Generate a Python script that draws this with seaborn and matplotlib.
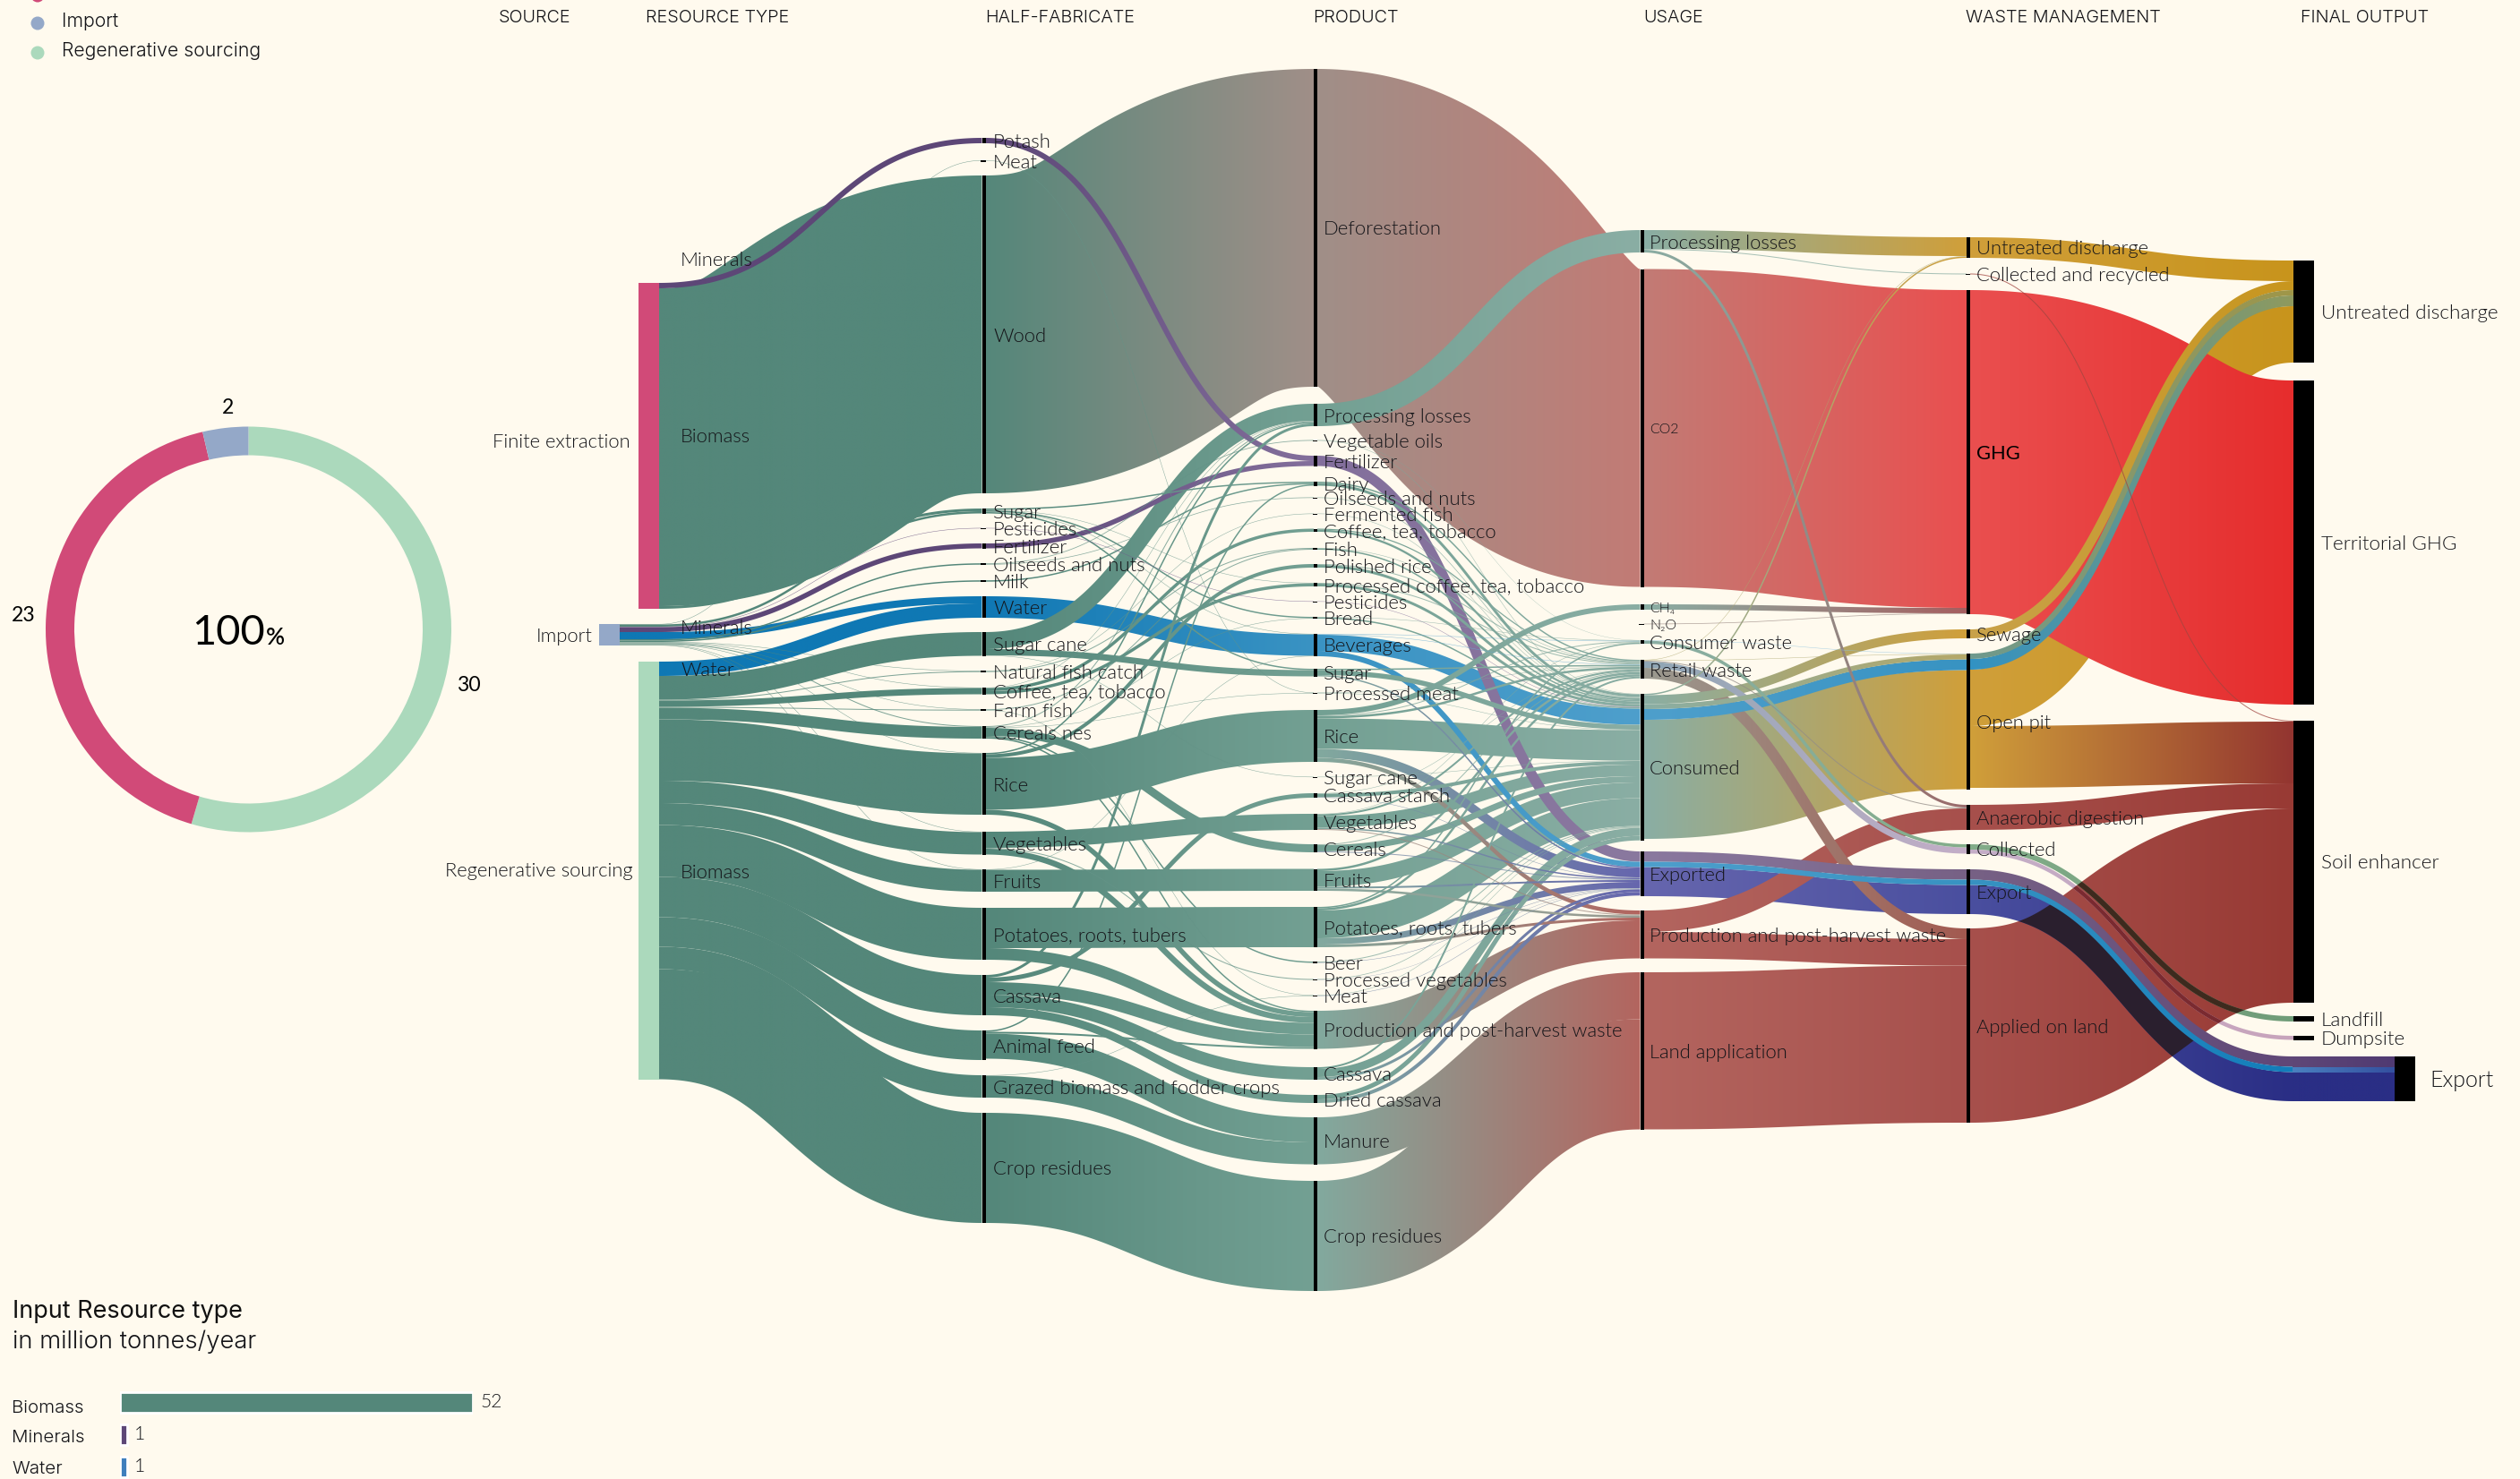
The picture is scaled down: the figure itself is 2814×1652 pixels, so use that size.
import numpy as np
import pandas as pd
import matplotlib
matplotlib.use("Agg")
import matplotlib.pyplot as plt
from matplotlib.path import Path
from matplotlib.patches import PathPatch, Rectangle, Circle
from matplotlib.colors import to_rgb
import seaborn as sns

# ---------------- DATA (flows in ribbon units: 1 unit = about 64 kt/year) ----------------
DONUT_NAMES = ["Regenerative sourcing", "Finite extraction", "Import"]
DONUT_VALUES = [30, 23, 2]
BAR_TYPES = ["Biomass", "Minerals", "Water"]
BAR_VALUES = [52, 1, 1]
HEADERS = ["SOURCE", "RESOURCE TYPE", "HALF-FABRICATE", "PRODUCT", "USAGE", "WASTE MANAGEMENT", "FINAL OUTPUT"]
RESOURCE_LABELS = ["Minerals", "Biomass", "Minerals", "Water", "Biomass"]

S_NODES = ["Finite extraction", "Import", "Regenerative sourcing"]
H_NODES = ["Potash", "Meat", "Wood", "Sugar", "Pesticides", "Fertilizer", "Oilseeds and nuts", "Milk", "Water",
           "Sugar cane", "Natural fish catch", "Coffee, tea, tobacco", "Farm fish", "Cereals nes", "Rice", "Vegetables",
           "Fruits", "Potatoes, roots, tubers", "Cassava", "Animal feed", "Grazed biomass and fodder crops", "Crop residues"]
P_NODES = ["Deforestation", "Processing losses", "Vegetable oils", "Fertilizer", "Dairy", "Oilseeds and nuts",
           "Fermented fish", "Coffee, tea, tobacco", "Fish", "Polished rice", "Processed coffee, tea, tobacco",
           "Pesticides", "Bread", "Beverages", "Sugar", "Processed meat", "Rice", "Sugar cane", "Cassava starch",
           "Vegetables", "Cereals", "Fruits", "Potatoes, roots, tubers", "Beer", "Processed vegetables", "Meat",
           "Production and post-harvest waste", "Cassava", "Dried cassava", "Manure", "Crop residues"]
U_NODES = ["Processing losses", "CO2", "CH₄", "N₂O", "Consumer waste", "Retail waste", "Consumed", "Exported",
           "Production and post-harvest waste", "Land application"]
W_NODES = ["Untreated discharge", "Collected and recycled", "GHG", "Sewage", "Open pit", "Anaerobic digestion",
           "Collected", "Export", "Applied on land"]
F_NODES = ["Untreated discharge", "Territorial GHG", "Soil enhancer", "Landfill", "Dumpsite", "Export"]
E_NODES = ["Export"]

FLOWS_SOURCE_HALF = [
    ("S:Finite extraction", "H:Potash", 6, "mineral"),
    ("S:Finite extraction", "H:Wood", 355, "biomass"),
    ("S:Finite extraction", "H:Sugar", 3, "biomass"),
    ("S:Import", "H:Meat", 0.5, "biomass"),
    ("S:Import", "H:Sugar", 2.5, "biomass"),
    ("S:Import", "H:Pesticides", 0.5, "mineral"),
    ("S:Import", "H:Fertilizer", 5.5, "mineral"),
    ("S:Import", "H:Water", 8, "water"),
    ("S:Import", "H:Oilseeds and nuts", 1.5, "biomass"),
    ("S:Import", "H:Milk", 1.5, "biomass"),
    ("S:Import", "H:Natural fish catch", 0.5, "biomass"),
    ("S:Import", "H:Coffee, tea, tobacco", 0.5, "biomass"),
    ("S:Import", "H:Farm fish", 0.5, "biomass"),
    ("S:Import", "H:Cereals nes", 1, "biomass"),
    ("S:Import", "H:Rice", 0.5, "biomass"),
    ("S:Import", "H:Vegetables", 0.5, "biomass"),
    ("S:Import", "H:Fruits", 0.5, "biomass"),
    ("S:Regenerative sourcing", "H:Water", 16, "water"),
    ("S:Regenerative sourcing", "H:Sugar cane", 26.5, "biomass"),
    ("S:Regenerative sourcing", "H:Natural fish catch", 1, "biomass"),
    ("S:Regenerative sourcing", "H:Coffee, tea, tobacco", 7, "biomass"),
    ("S:Regenerative sourcing", "H:Farm fish", 1, "biomass"),
    ("S:Regenerative sourcing", "H:Cereals nes", 13, "biomass"),
    ("S:Regenerative sourcing", "H:Rice", 68.5, "biomass"),
    ("S:Regenerative sourcing", "H:Vegetables", 25, "biomass"),
    ("S:Regenerative sourcing", "H:Fruits", 24.5, "biomass"),
    ("S:Regenerative sourcing", "H:Potatoes, roots, tubers", 58, "biomass"),
    ("S:Regenerative sourcing", "H:Cassava", 45, "biomass"),
    ("S:Regenerative sourcing", "H:Animal feed", 33, "biomass"),
    ("S:Regenerative sourcing", "H:Grazed biomass and fodder crops", 25, "biomass"),
    ("S:Regenerative sourcing", "H:Crop residues", 123, "biomass"),
]
FLOWS_HALF_PRODUCT = [
    ("H:Potash", "P:Fertilizer", 6, "mineral"),
    ("H:Meat", "P:Processed meat", 0.5, "biomass"),
    ("H:Wood", "P:Deforestation", 355, "defor"),
    ("H:Sugar", "P:Dairy", 1.5, "biomass"),
    ("H:Sugar", "P:Processed coffee, tea, tobacco", 0.5, "biomass"),
    ("H:Sugar", "P:Bread", 1.5, "biomass"),
    ("H:Sugar", "P:Beverages", 0.5, "biomass"),
    ("H:Sugar", "P:Sugar", 1.5, "biomass"),
    ("H:Pesticides", "P:Pesticides", 0.5, "mineral"),
    ("H:Fertilizer", "P:Fertilizer", 5.5, "mineral"),
    ("H:Oilseeds and nuts", "P:Vegetable oils", 0.8, "biomass"),
    ("H:Oilseeds and nuts", "P:Oilseeds and nuts", 0.7, "biomass"),
    ("H:Milk", "P:Dairy", 1.5, "biomass"),
    ("H:Water", "P:Beverages", 24, "water"),
    ("H:Sugar cane", "P:Processing losses", 19, "biomass"),
    ("H:Sugar cane", "P:Sugar", 7, "biomass"),
    ("H:Sugar cane", "P:Sugar cane", 0.5, "biomass"),
    ("H:Natural fish catch", "P:Fermented fish", 0.5, "biomass"),
    ("H:Natural fish catch", "P:Fish", 1, "biomass"),
    ("H:Coffee, tea, tobacco", "P:Processing losses", 0.5, "biomass"),
    ("H:Coffee, tea, tobacco", "P:Coffee, tea, tobacco", 3.5, "biomass"),
    ("H:Coffee, tea, tobacco", "P:Processed coffee, tea, tobacco", 3.5, "biomass"),
    ("H:Farm fish", "P:Fish", 1, "biomass"),
    ("H:Farm fish", "P:Meat", 0.5, "biomass"),
    ("H:Cereals nes", "P:Processing losses", 1, "biomass"),
    ("H:Cereals nes", "P:Bread", 0.5, "biomass"),
    ("H:Cereals nes", "P:Processed meat", 0.5, "biomass"),
    ("H:Cereals nes", "P:Cereals", 9, "biomass"),
    ("H:Cereals nes", "P:Beer", 1.5, "biomass"),
    ("H:Cereals nes", "P:Production and post-harvest waste", 1.5, "biomass"),
    ("H:Rice", "P:Processing losses", 1.5, "biomass"),
    ("H:Rice", "P:Polished rice", 4, "biomass"),
    ("H:Rice", "P:Rice", 58, "biomass"),
    ("H:Rice", "P:Production and post-harvest waste", 5.5, "biomass"),
    ("H:Vegetables", "P:Vegetables", 18, "biomass"),
    ("H:Vegetables", "P:Processed vegetables", 1, "biomass"),
    ("H:Vegetables", "P:Production and post-harvest waste", 6.5, "biomass"),
    ("H:Fruits", "P:Beverages", 0.5, "biomass"),
    ("H:Fruits", "P:Fruits", 24.5, "biomass"),
    ("H:Potatoes, roots, tubers", "P:Potatoes, roots, tubers", 45, "biomass"),
    ("H:Potatoes, roots, tubers", "P:Production and post-harvest waste", 13, "biomass"),
    ("H:Cassava", "P:Processing losses", 3, "biomass"),
    ("H:Cassava", "P:Cassava starch", 5, "biomass"),
    ("H:Cassava", "P:Production and post-harvest waste", 14, "biomass"),
    ("H:Cassava", "P:Cassava", 14, "biomass"),
    ("H:Cassava", "P:Dried cassava", 9, "biomass"),
    ("H:Animal feed", "P:Dairy", 1.5, "biomass"),
    ("H:Animal feed", "P:Production and post-harvest waste", 2, "biomass"),
    ("H:Animal feed", "P:Manure", 28, "biomass"),
    ("H:Grazed biomass and fodder crops", "P:Meat", 0.5, "biomass"),
    ("H:Grazed biomass and fodder crops", "P:Manure", 24.5, "biomass"),
    ("H:Crop residues", "P:Crop residues", 123, "biomass"),
]
FLOWS_PRODUCT_USAGE = [
    ("P:Deforestation", "U:CO2", 355, "defor"),
    ("P:Processing losses", "U:Processing losses", 25, "biomass"),
    ("P:Vegetable oils", "U:Consumed", 0.5, "biomass"),
    ("P:Vegetable oils", "U:Consumer waste", 0.3, "biomass"),
    ("P:Fertilizer", "U:Exported", 11.5, "mineral"),
    ("P:Dairy", "U:Retail waste", 1.5, "biomass"),
    ("P:Dairy", "U:Consumed", 3, "biomass"),
    ("P:Oilseeds and nuts", "U:Consumed", 0.7, "biomass"),
    ("P:Fermented fish", "U:Consumed", 0.5, "biomass"),
    ("P:Coffee, tea, tobacco", "U:Retail waste", 1.2, "biomass"),
    ("P:Coffee, tea, tobacco", "U:Consumed", 2.3, "biomass"),
    ("P:Fish", "U:Retail waste", 0.5, "biomass"),
    ("P:Fish", "U:Consumed", 1.5, "biomass"),
    ("P:Polished rice", "U:Retail waste", 1, "biomass"),
    ("P:Polished rice", "U:Consumed", 3, "biomass"),
    ("P:Processed coffee, tea, tobacco", "U:Retail waste", 1, "biomass"),
    ("P:Processed coffee, tea, tobacco", "U:Consumed", 3, "biomass"),
    ("P:Pesticides", "U:Consumed", 0.5, "mineral"),
    ("P:Bread", "U:Consumer waste", 0.5, "biomass"),
    ("P:Bread", "U:Consumed", 1.5, "biomass"),
    ("P:Beverages", "U:Consumer waste", 0.5, "thinblue"),
    ("P:Beverages", "U:Retail waste", 0.5, "thinblue"),
    ("P:Beverages", "U:Consumed", 18, "water"),
    ("P:Beverages", "U:Exported", 6, "water"),
    ("P:Sugar", "U:Retail waste", 1.5, "biomass"),
    ("P:Sugar", "U:Consumed", 5.5, "biomass"),
    ("P:Sugar", "U:Exported", 1.5, "exp"),
    ("P:Processed meat", "U:Retail waste", 0.5, "biomass"),
    ("P:Processed meat", "U:Consumed", 0.5, "biomass"),
    ("P:Rice", "U:CH₄", 6, "biomass"),
    ("P:Rice", "U:Consumer waste", 1, "biomass"),
    ("P:Rice", "U:Retail waste", 2.5, "biomass"),
    ("P:Rice", "U:Consumed", 34, "biomass"),
    ("P:Rice", "U:Exported", 10, "exp"),
    ("P:Rice", "U:Production and post-harvest waste", 4.5, "land"),
    ("P:Sugar cane", "U:Consumed", 0.5, "biomass"),
    ("P:Cassava starch", "U:Retail waste", 0.5, "biomass"),
    ("P:Cassava starch", "U:Consumed", 4, "biomass"),
    ("P:Cassava starch", "U:Exported", 0.5, "exp"),
    ("P:Vegetables", "U:Consumer waste", 0.5, "biomass"),
    ("P:Vegetables", "U:Retail waste", 2, "biomass"),
    ("P:Vegetables", "U:Consumed", 13, "biomass"),
    ("P:Vegetables", "U:Exported", 1.5, "exp"),
    ("P:Vegetables", "U:Production and post-harvest waste", 1, "land"),
    ("P:Cereals", "U:Retail waste", 1, "biomass"),
    ("P:Cereals", "U:Consumed", 7, "biomass"),
    ("P:Cereals", "U:Exported", 1, "exp"),
    ("P:Fruits", "U:Retail waste", 2.5, "biomass"),
    ("P:Fruits", "U:Consumed", 17.5, "biomass"),
    ("P:Fruits", "U:Exported", 2, "exp"),
    ("P:Fruits", "U:Production and post-harvest waste", 2.5, "grayland"),
    ("P:Potatoes, roots, tubers", "U:Consumer waste", 1.5, "biomass"),
    ("P:Potatoes, roots, tubers", "U:Retail waste", 2.5, "biomass"),
    ("P:Potatoes, roots, tubers", "U:Consumed", 31, "biomass"),
    ("P:Potatoes, roots, tubers", "U:Exported", 7, "exp"),
    ("P:Potatoes, roots, tubers", "U:Production and post-harvest waste", 3, "land"),
    ("P:Beer", "U:Consumed", 1, "biomass"),
    ("P:Beer", "U:Exported", 0.5, "exp"),
    ("P:Processed vegetables", "U:Consumed", 0.7, "biomass"),
    ("P:Processed vegetables", "U:Exported", 0.3, "exp"),
    ("P:Meat", "U:Consumed", 0.5, "biomass"),
    ("P:Meat", "U:Exported", 0.5, "exp"),
    ("P:Production and post-harvest waste", "U:Production and post-harvest waste", 42.5, "land"),
    ("P:Cassava", "U:Retail waste", 2, "biomass"),
    ("P:Cassava", "U:Consumed", 9, "biomass"),
    ("P:Cassava", "U:Exported", 3, "exp"),
    ("P:Dried cassava", "U:Consumed", 5, "biomass"),
    ("P:Dried cassava", "U:Exported", 4, "exp"),
    ("P:Manure", "U:Land application", 52.5, "land"),
    ("P:Crop residues", "U:Land application", 123, "land"),
]
FLOWS_USAGE_WASTE = [
    ("U:Processing losses", "W:Untreated discharge", 21, "gold"),
    ("U:Processing losses", "W:Collected and recycled", 1, "biomass"),
    ("U:Processing losses", "W:Anaerobic digestion", 3, "anaer"),
    ("U:CO2", "W:GHG", 355, "defor"),
    ("U:CH₄", "W:GHG", 6, "ghgch4"),
    ("U:N₂O", "W:GHG", 0.7, "ghgch4"),
    ("U:Consumer waste", "W:Open pit", 0.5, "thinblue"),
    ("U:Consumer waste", "W:Collected", 3.5, "green"),
    ("U:Retail waste", "W:Untreated discharge", 0.5, "gold"),
    ("U:Retail waste", "W:Open pit", 0.5, "gold"),
    ("U:Retail waste", "W:Anaerobic digestion", 1, "anaer"),
    ("U:Retail waste", "W:Collected", 7, "mauve"),
    ("U:Retail waste", "W:Applied on land", 12, "grayland"),
    ("U:Consumed", "W:Untreated discharge", 1.5, "gold"),
    ("U:Consumed", "W:Sewage", 10, "gold"),
    ("U:Consumed", "W:Open pit", 5.5, "olive"),
    ("U:Consumed", "W:Open pit", 12, "water"),
    ("U:Consumed", "W:Open pit", 133, "gold"),
    ("U:Exported", "W:Export", 11.5, "mineral"),
    ("U:Exported", "W:Export", 6, "water"),
    ("U:Exported", "W:Export", 32.5, "indigo"),
    ("U:Production and post-harvest waste", "W:Anaerobic digestion", 24, "land"),
    ("U:Production and post-harvest waste", "W:Applied on land", 29.5, "land"),
    ("U:Land application", "W:Applied on land", 175.5, "land"),
]
FLOWS_WASTE_FINAL = [
    ("W:Untreated discharge", "F:Untreated discharge", 23, "gold"),
    ("W:Collected and recycled", "F:Soil enhancer", 1, "land"),
    ("W:GHG", "F:Territorial GHG", 362, "defor"),
    ("W:Sewage", "F:Untreated discharge", 10, "sewage"),
    ("W:Open pit", "F:Untreated discharge", 6, "tealgray"),
    ("W:Open pit", "F:Untreated discharge", 12, "waterdis"),
    ("W:Open pit", "F:Untreated discharge", 63, "gold"),
    ("W:Open pit", "F:Soil enhancer", 69, "goldsoil"),
    ("W:Anaerobic digestion", "F:Soil enhancer", 28, "land"),
    ("W:Applied on land", "F:Soil enhancer", 217, "land"),
    ("W:Collected", "F:Landfill", 6, "green"),
    ("W:Collected", "F:Dumpsite", 4.5, "mauve"),
    ("W:Export", "F:Export", 11.5, "mineral"),
    ("W:Export", "F:Export", 6, "water"),
    ("W:Export", "F:Export", 32.5, "indigo"),
]
FLOWS_FINAL_END = [
    ("F:Export", "E:Export", 11.5, "mineral"),
    ("F:Export", "E:Export", 6, "waterend"),
    ("F:Export", "E:Export", 32.5, "indigo"),
]

# ---------------- LAYOUT AND STYLE ----------------
W_PX, H_PX, DPI = 2814, 1652, 200
BG = "#FFFAEE"
INK = "#141418"
PX = 72 / DPI
LIGHT = 300
TEXT_DY = 2
S_TOPS = [316, 697, 739]
H_TOPS = [154, 179, 196, 568, 589.7, 607, 629.2, 648.2, 666, 706, 749.2, 768, 792.2, 811, 841, 929, 971, 1014, 1089, 1151, 1201, 1243]
P_TOPS = [77, 451, 491.5, 509, 538, 555.5, 573.6, 590.5, 612, 630, 651, 671.6, 689, 708, 747, 773.5, 793, 867.6, 886, 909, 943, 970.5, 1013, 1074, 1093.5, 1111.5, 1129, 1192, 1223, 1248, 1319]
U_TOPS = [257, 300.5, 675, 696.6, 715, 737, 775, 951, 1017, 1086]
W_TOPS = [265, 305.5, 324, 703, 730, 899, 943, 971, 1037]
F_TOPS = [291, 425, 805, 1135, 1157, 1180]
E_TOPS = [1180]
COLUMN_X = {  # left edge of bar, right edge of bar
    "S": (713, 736), "H": (1096.5, 1100.5), "P": (1467, 1471), "U": (1831.5, 1835.5),
    "W": (2196, 2200), "F": (2561, 2584), "E": (2674, 2697)}
COLUMN_INDEX = {c: i for i, c in enumerate("SHPUWFE")}
LABEL_X = {"S": 704, "H": 1109, "P": 1478, "U": 1842, "W": 2207, "F": 2592, "E": 2713}
PALETTE = {
    "biomass":  ["#54877a", "#54877a", "#73a093", "#8aaea4", "#8aaea4", "#8aaea4", None],
    "defor":    [None, "#55877a", "#a08f88", "#c27b75", "#ea4f4f", "#e62d2d", None],
    "land":     [None, None, "#82a99e", "#b3655f", "#a7504c", "#983a34", None],
    "grayland": [None, None, "#8aa89e", "#9a9a90", "#a35a50", None, None],
    "exp":      [None, None, "#82a99e", "#6666ae", None, None, None],
    "indigo":   [None, None, None, "#6666ae", "#4a4f9f", "#2a2e85", "#2a2e85"],
    "mineral":  ["#5d4777", "#5d4777", "#836f9c", "#8a799f", "#776185", "#5f4777", "#503a72"],
    "water":    ["#0f78b4", "#1078b4", "#3a93c3", "#4e9fcc", "#3893c2", "#127dba", None],
    "waterend": [None, None, None, None, None, "#4a80bf", "#34509f"],
    "waterdis": [None, None, None, None, "#3292c4", "#8f9a5e", None],
    "thinblue": [None, None, "#3a93c3", "#8fc4e0", "#8fc4e0", None, None],
    "gold":     [None, None, None, "#8aaea4", "#d09f3a", "#c8941c", None],
    "sewage":   [None, None, None, None, "#c9a24a", "#c8961e", None],
    "goldsoil": [None, None, None, None, "#d09f3a", "#933530", None],
    "olive":    [None, None, None, "#8aaea4", "#b5a868", None, None],
    "tealgray": [None, None, None, None, "#6e9a8e", "#a09648", None],
    "anaer":    [None, None, None, "#8aaea4", "#9a6a6a", None, None],
    "ghgch4":   [None, None, None, "#8aaea4", "#a55f60", None, None],
    "green":    [None, None, None, "#8aaea4", "#83ad8a", "#6f9c78", None],
    "mauve":    [None, None, None, "#8fa6b4", "#c4aec8", "#c8a4bc", None],
}
HIDDEN_UNDER_RED = {"goldsoil"}
DARK_CROSSING = {"indigo": "#2a1f2e", "green": "#3d2a1e", "mauve": "#7a2a30"}
NODE_COLORS = {"S:Finite extraction": "#d14a78", "S:Import": "#94a8c8", "S:Regenerative sourcing": "#abd9bc"}
SMALL_LABELS = {"U:CO2", "U:CH₄", "U:N₂O"}

sns.set_theme(style="white", rc={"figure.facecolor": BG, "axes.facecolor": BG, "savefig.facecolor": BG})
plt.rcParams["font.family"] = ["Lato", "DejaVu Sans"]
WIDE_FONT = ["Inter", "Lato", "DejaVu Sans"]

fig = plt.figure(figsize=(W_PX / DPI, H_PX / DPI), dpi=DPI)
ax = fig.add_axes([0, 0, 1, 1])
ax.set_xlim(0, W_PX)
ax.set_ylim(H_PX, 0)
ax.set_autoscale_on(False)
ax.axis("off")

# ---------------- SANKEY GEOMETRY ----------------
tops = {}
for col, names, ys in [("S", S_NODES, S_TOPS), ("H", H_NODES, H_TOPS), ("P", P_NODES, P_TOPS), ("U", U_NODES, U_TOPS),
                       ("W", W_NODES, W_TOPS), ("F", F_NODES, F_TOPS), ("E", E_NODES, E_TOPS)]:
    for n, y in zip(names, ys):
        tops[f"{col}:{n}"] = y

links = []
for stage, group in enumerate([FLOWS_SOURCE_HALF, FLOWS_HALF_PRODUCT, FLOWS_PRODUCT_USAGE,
                               FLOWS_USAGE_WASTE, FLOWS_WASTE_FINAL, FLOWS_FINAL_END]):
    for i, (a, b, v, kind) in enumerate(group):
        links.append(dict(a=a, b=b, v=v, kind=kind, stage=stage, i=i))

out_sum, in_sum = {}, {}
for n in tops:
    outs = [l for l in links if l["a"] == n]
    ins = [l for l in links if l["b"] == n]
    outs.sort(key=lambda l: (l["i"] if n == "S:Import" else tops[l["b"]], l["i"]))
    ins.sort(key=lambda l: (tops[l["a"]], l["i"]))
    y = tops[n]
    for l in outs:
        l["y0"] = y
        y += l["v"]
    out_sum[n] = y - tops[n]
    y = tops[n]
    for l in ins:
        l["y1"] = y
        y += l["v"]
    in_sum[n] = y - tops[n]


def ribbon(l, n=220):
    """A ribbon is a horizontal-tangent Bezier stroked with the flow as its width."""
    x0 = 2560 if l["a"] == "F:Export" else COLUMN_X[l["a"][0]][1]
    x1 = COLUMN_X[l["b"][0]][0]
    c0, c1 = l["y0"] + l["v"] / 2, l["y1"] + l["v"] / 2
    t = np.linspace(0, 1, n)
    xm = (x0 + x1) / 2
    xs = (1 - t) ** 3 * x0 + 3 * (1 - t) * t * xm + t ** 3 * x1
    ys = c0 + (c1 - c0) * (3 * t ** 2 - 2 * t ** 3)
    dx = 3 * (1 - t) ** 2 * (xm - x0) + 3 * t ** 2 * (x1 - xm)
    dy = (c1 - c0) * (6 * t - 6 * t ** 2)
    norm = np.hypot(dx, dy)
    nx, ny = -dy / norm, dx / norm
    hw = l["v"] / 2
    upper = np.c_[xs - nx * hw, ys - ny * hw]
    lower = np.c_[xs + nx * hw, ys + ny * hw]
    if l["a"] == "S:Import":  # the import bar stands apart: its ribbons run flat to the biomass column
        upper = np.r_[[[692, upper[0, 1]]], upper]
        lower = np.r_[[[692, lower[0, 1]]], lower]
    verts = np.r_[upper, lower[::-1], upper[:1]]
    codes = [Path.MOVETO] + [Path.LINETO] * (len(verts) - 2) + [Path.CLOSEPOLY]
    return Path(verts, codes), x0, x1, verts


def link_colors(l):
    pal = PALETTE[l["kind"]]
    return pal[COLUMN_INDEX[l["a"][0]]], pal[COLUMN_INDEX[l["b"][0]]]


def draw_ribbon(l, z):
    path, x0, x1, verts = ribbon(l)
    c0, c1 = [np.array(to_rgb(c)) for c in link_colors(l)]
    if l["v"] < 1.2:
        ax.add_patch(PathPatch(path, fc=(c0 + c1) / 2, ec="none", alpha=0.75, zorder=z))
        return path
    clip = PathPatch(path, transform=ax.transData, fc="none", ec="none")
    ex0, ex1 = verts[:, 0].min() - 1, verts[:, 0].max() + 1
    ey0, ey1 = verts[:, 1].min() - 1, verts[:, 1].max() + 1
    f = np.clip((np.linspace(ex0, ex1, 128) - x0) / (x1 - x0), 0, 1)[None, :, None]
    grad = np.repeat(c0[None, None, :] * (1 - f) + c1[None, None, :] * f, 2, axis=0)
    im = ax.imshow(grad, extent=[ex0, ex1, ey1, ey0], aspect="auto", interpolation="bilinear", zorder=z)
    im.set_clip_path(clip)
    return path


z = 2.0
applied_path = None
for stage in range(6):
    group = sorted([l for l in links if l["stage"] == stage], key=lambda l: -l["v"])
    if stage == 4:  # the red ribbon covers the large gold ribbons that run behind it
        back = [l for l in group if l["kind"] in HIDDEN_UNDER_RED or (l["kind"] == "gold" and l["v"] > 30)]
        group = back + [l for l in group if l not in back]
    for l in group:
        z += 0.001
        p = draw_ribbon(l, z)
        if l["a"] == "W:Applied on land":
            applied_path = p
        if stage == 4 and l["kind"] in DARK_CROSSING and applied_path is not None:
            z += 0.001
            over = PathPatch(ribbon(l)[0], fc=DARK_CROSSING[l["kind"]], ec="none", zorder=z)
            ax.add_patch(over)
            over.set_clip_path(PathPatch(applied_path, transform=ax.transData))

# ---------------- NODES AND THEIR LABELS ----------------
LABEL_SIZE = {"H": 22.2, "P": 22.2, "U": 22, "W": 22, "F": 22.5, "E": 25}
for n, y in tops.items():
    col = n[0]
    h = max(out_sum[n], in_sum[n], 1.5)
    x0, x1 = COLUMN_X[col]
    if n == "F:Export":
        continue
    if col in "HPUW" and h < 3:
        x0 -= 1.5
    if n == "S:Import":
        x0, x1 = 669, 692
    color = NODE_COLORS.get(n, "black")
    ax.add_patch(Rectangle((x0, y), x1 - x0, h, fc=color, ec="none", zorder=8))
    if col == "S":
        continue
    name = n[2:]
    fs = 16 if n in SMALL_LABELS else LABEL_SIZE[col]
    ax.text(LABEL_X[col], y + h / 2 + TEXT_DY, name, ha="left", va="center", fontsize=fs * PX,
            color="black" if name == "GHG" else INK, zorder=20, fontweight=400 if name == "GHG" else LIGHT)

for name, xr, y in zip(S_NODES, [704, 662, 707], [492, 709, 971]):
    ax.text(xr, y + TEXT_DY, name, ha="right", va="center", fontsize=22 * PX, color=INK, fontweight=LIGHT, zorder=20)
for name, y in zip(RESOURCE_LABELS, [289, 486, 700, 747, 973]):
    ax.text(760, y + TEXT_DY, name, ha="left", va="center", fontsize=22 * PX, color=INK, fontweight=LIGHT, zorder=20)

for name, x in zip(HEADERS, [557, 721, 1100, 1466, 1835, 2195, 2569]):
    ax.text(x, 20, name, ha="left", va="center", fontsize=19.8 * PX, color=INK, fontweight=LIGHT, zorder=20, family=WIDE_FONT)

# legend at the top left; the first entry is cut off by the upper edge
for y, color in zip([-5, 26, 59], [NODE_COLORS["S:Finite extraction"], NODE_COLORS["S:Import"], NODE_COLORS["S:Regenerative sourcing"]]):
    ax.add_patch(Circle((42, y), 7.5, fc=color, ec="none", zorder=8))
for name, y in zip(["Import", "Regenerative sourcing"], [24, 57]):
    ax.text(69, y, name, ha="left", va="center", fontsize=21.3 * PX, color=INK, fontweight=LIGHT, zorder=20, family=WIDE_FONT)

# ---------------- DONUT ----------------
cx, cy, R = 277.5, 703, 226.5
ax_d = fig.add_axes([(cx - R) / W_PX, 1 - (cy + R) / H_PX, 2 * R / W_PX, 2 * R / H_PX])
ax_d.pie(DONUT_VALUES, startangle=90, counterclock=False,
         colors=[NODE_COLORS["S:Regenerative sourcing"], NODE_COLORS["S:Finite extraction"], NODE_COLORS["S:Import"]],
         wedgeprops=dict(width=32 / R, linewidth=0), radius=1)
ax_d.set_xlim(-1, 1)
ax_d.set_ylim(-1, 1)
ax_d.patch.set_alpha(0)
for val, (x, y) in zip(DONUT_VALUES, [(523, 766), (26, 688), (255, 456)]):
    ax.text(x, y, str(val), ha="center", va="center", fontsize=23 * PX, color="black", zorder=20)
ax.text(255, 707, "100", ha="center", va="center", fontsize=47 * PX, color="black", zorder=20)
ax.text(307, 713, "%", ha="center", va="center", fontsize=26 * PX, color="black", fontweight=600, zorder=20)

# ---------------- BARS ----------------
ax_b = fig.add_axes([134 / W_PX, 1 - 1656.5 / H_PX, (528 - 134) / W_PX, 108 / H_PX])
frame = pd.DataFrame({"type": BAR_TYPES, "value": BAR_VALUES})
sns.barplot(data=frame, y="type", x="value", hue="type", palette=["#54877a", "#5d4777", "#3f7fbd"], width=0.64,
            legend=False, saturation=1, ax=ax_b)
ax_b.set_xlim(0, 52)
ax_b.axis("off")
for container in ax_b.containers:
    ax_b.bar_label(container, fmt="%d", padding=3, fontsize=21 * PX, color=INK, fontweight=LIGHT, clip_on=False)
for name, y in zip(BAR_TYPES, [1573, 1606, 1641]):
    ax.text(13, y, name, ha="left", va="center", fontsize=20.5 * PX, color=INK, fontweight=LIGHT, zorder=20, family=WIDE_FONT)
ax.text(14, 1465, "Input Resource type", ha="left", va="center", fontsize=27 * PX, color="#111111", zorder=20, family=WIDE_FONT)
ax.text(14, 1499, "in million tonnes/year", ha="left", va="center", fontsize=27.5 * PX, color=INK, fontweight=LIGHT, zorder=20, family=WIDE_FONT)

fig.savefig("out.png", dpi=DPI, facecolor=BG)
